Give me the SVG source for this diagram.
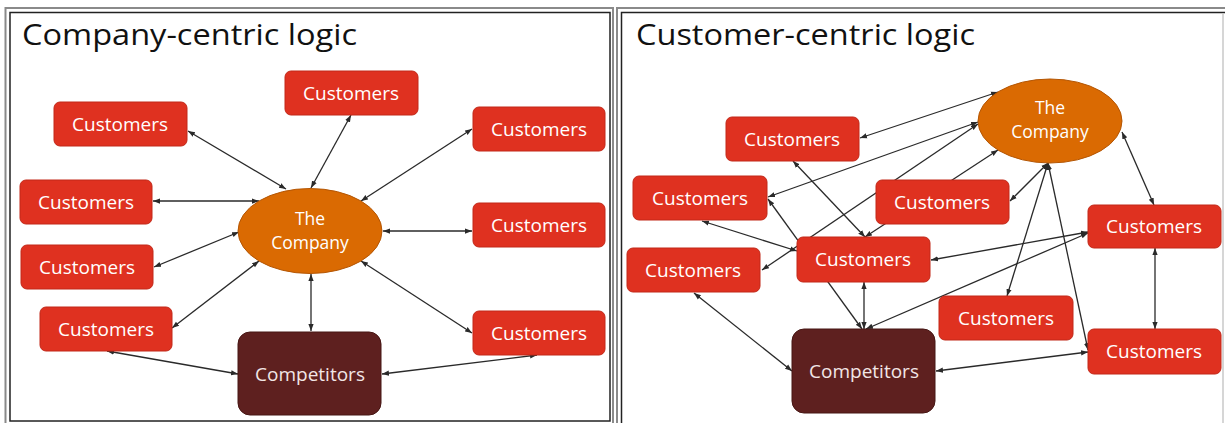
<svg xmlns="http://www.w3.org/2000/svg" width="1225" height="423" viewBox="0 0 1225 423">
<defs>
<marker id="ah" viewBox="0 0 8 8" refX="8" refY="4" markerWidth="7" markerHeight="7" markerUnits="userSpaceOnUse" orient="auto-start-reverse"><path d="M0,1 L8,4 L0,7 z" fill="#2a2a2a"/></marker>
<style>
.cu{fill:#DF3120;stroke:#C22818;stroke-width:1}
.co{fill:#DA6A02;stroke:#B45604;stroke-width:1}
.cp{fill:#5E201F;stroke:#471614;stroke-width:1}
.lb{font-family:"Open Sans","DejaVu Sans",sans-serif;font-size:19px;fill:#FFFFFF;text-anchor:middle}
.le{font-family:"Open Sans","DejaVu Sans",sans-serif;font-size:17.5px;fill:#FFFFFF;text-anchor:middle}
.lc{font-family:"Open Sans","DejaVu Sans",sans-serif;font-size:19px;fill:#F2E6E6;text-anchor:middle}
.tt{font-family:"Open Sans","DejaVu Sans",sans-serif;font-size:29px;fill:#111111}
.cn line{stroke:#2a2a2a;stroke-width:1.3;marker-start:url(#ah);marker-end:url(#ah)}
.fo{fill:none;stroke:#8a8a8a;stroke-width:2}
.fi{fill:none;stroke:#222222;stroke-width:1.5}
</style>
</defs>
<rect width="1225" height="423" fill="#FFFFFF"/>
<g id="frames">
<rect class="fo" x="5.5" y="8" width="607.5" height="430"/>
<rect class="fi" x="10" y="12.5" width="600" height="408.5"/>
<rect class="fo" x="617" y="8" width="640" height="430"/>
<rect class="fi" x="621.5" y="12.5" width="640" height="430"/>
<line x1="1223" y1="13" x2="1223" y2="423" stroke="#c8c8c8" stroke-width="1.5"/>
</g>
<g id="titles">
<text class="tt" x="22" y="45" textLength="335" lengthAdjust="spacingAndGlyphs">Company-centric logic</text>
<text class="tt" x="636" y="45" textLength="339" lengthAdjust="spacingAndGlyphs">Customer-centric logic</text>
</g>
<g id="connectors" class="cn">
<line x1="188" y1="131" x2="286" y2="189"/>
<line x1="351" y1="115" x2="311" y2="188"/>
<line x1="472" y1="129" x2="361" y2="201"/>
<line x1="153" y1="201" x2="259" y2="201"/>
<line x1="154" y1="267" x2="239" y2="232"/>
<line x1="172" y1="328" x2="259" y2="261"/>
<line x1="311" y1="274" x2="311" y2="331"/>
<line x1="383" y1="231" x2="472" y2="231"/>
<line x1="361" y1="261" x2="472" y2="333"/>
<line x1="107" y1="351" x2="238" y2="374"/>
<line x1="537" y1="355" x2="382" y2="374"/>
<line x1="860" y1="138" x2="998" y2="92"/>
<line x1="768" y1="197" x2="978" y2="122"/>
<line x1="762" y1="270" x2="978" y2="124"/>
<line x1="865" y1="237" x2="998" y2="150"/>
<line x1="1010" y1="201" x2="1048" y2="163"/>
<line x1="1007" y1="296" x2="1048" y2="163"/>
<line x1="1088" y1="350" x2="1048" y2="163"/>
<line x1="1122" y1="132" x2="1154" y2="205"/>
<line x1="1155" y1="248" x2="1155" y2="329"/>
<line x1="936" y1="371" x2="1088" y2="352"/>
<line x1="694" y1="293" x2="792" y2="371"/>
<line x1="768" y1="199" x2="862" y2="329"/>
<line x1="702" y1="221" x2="797" y2="251"/>
<line x1="864" y1="282" x2="864" y2="329"/>
<line x1="931" y1="260" x2="1088" y2="232"/>
<line x1="866" y1="329" x2="1088" y2="233"/>
<line x1="793" y1="161" x2="865" y2="237"/>
</g>
<g id="L-company"><ellipse class="co" cx="310" cy="231" rx="72" ry="42.5"/><text class="le" x="310" y="224.5">The</text><text class="le" x="310" y="249">Company</text></g>
<g id="L-competitors"><rect class="cp" x="238" y="332" width="143" height="83" rx="12"/><text class="lc" x="310" y="381">Competitors</text></g>
<g id="L-cust1"><rect class="cu" x="285" y="71" width="133" height="44" rx="6"/><text class="lb" x="351" y="99.5">Customers</text></g>
<g id="L-cust2"><rect class="cu" x="54" y="102" width="133" height="44" rx="6"/><text class="lb" x="120" y="130.5">Customers</text></g>
<g id="L-cust3"><rect class="cu" x="473" y="107" width="132" height="44" rx="6"/><text class="lb" x="539" y="135.5">Customers</text></g>
<g id="L-cust4"><rect class="cu" x="20" y="180" width="132" height="44" rx="6"/><text class="lb" x="86" y="208.5">Customers</text></g>
<g id="L-cust5"><rect class="cu" x="473" y="203" width="132" height="44" rx="6"/><text class="lb" x="539" y="231.5">Customers</text></g>
<g id="L-cust6"><rect class="cu" x="21" y="245" width="132" height="44" rx="6"/><text class="lb" x="87" y="273.5">Customers</text></g>
<g id="L-cust7"><rect class="cu" x="40" y="307" width="132" height="44" rx="6"/><text class="lb" x="106" y="335.5">Customers</text></g>
<g id="L-cust8"><rect class="cu" x="473" y="311" width="132" height="44" rx="6"/><text class="lb" x="539" y="339.5">Customers</text></g>
<g id="R-company"><ellipse class="co" cx="1050" cy="121" rx="72" ry="42"/><text class="le" x="1050" y="113.5">The</text><text class="le" x="1050" y="138">Company</text></g>
<g id="R-competitors"><rect class="cp" x="792" y="329" width="143" height="84" rx="12"/><text class="lc" x="864" y="378">Competitors</text></g>
<g id="R-custA"><rect class="cu" x="726" y="117" width="133" height="44" rx="6"/><text class="lb" x="792" y="145.5">Customers</text></g>
<g id="R-custB"><rect class="cu" x="633" y="176" width="134" height="44" rx="6"/><text class="lb" x="700" y="204.5">Customers</text></g>
<g id="R-custC"><rect class="cu" x="876" y="180" width="133" height="44" rx="6"/><text class="lb" x="942" y="208.5">Customers</text></g>
<g id="R-custD"><rect class="cu" x="1088" y="205" width="133" height="43" rx="6"/><text class="lb" x="1154" y="233">Customers</text></g>
<g id="R-custE"><rect class="cu" x="627" y="248" width="133" height="44" rx="6"/><text class="lb" x="693" y="276.5">Customers</text></g>
<g id="R-custF"><rect class="cu" x="797" y="237" width="133" height="45" rx="6"/><text class="lb" x="863" y="266">Customers</text></g>
<g id="R-custG"><rect class="cu" x="939" y="296" width="134" height="44" rx="6"/><text class="lb" x="1006" y="324.5">Customers</text></g>
<g id="R-custH"><rect class="cu" x="1088" y="329" width="133" height="45" rx="6"/><text class="lb" x="1154" y="358">Customers</text></g>
</svg>
